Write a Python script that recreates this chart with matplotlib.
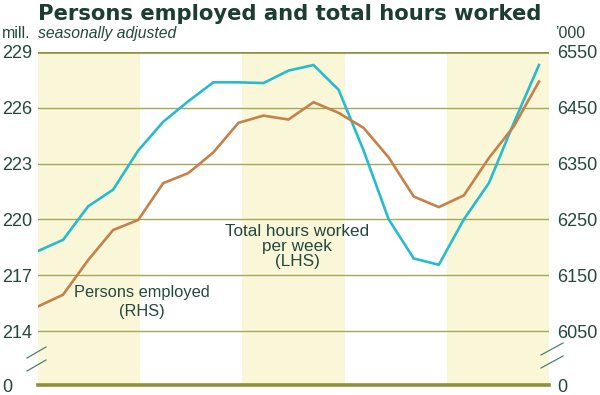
import matplotlib.pyplot as plt

# quarterly observations, 21 points
hours = [218.3, 218.9, 220.7, 221.6, 223.7, 225.25, 226.35, 227.37, 227.37, 227.33,
         228.0, 228.3, 226.97, 223.7, 220.0, 217.9, 217.56, 220.0, 221.95, 225.2, 228.3]
persons = [6094, 6115, 6177, 6231, 6249, 6315, 6333, 6370, 6423, 6436,
           6429, 6460, 6441, 6414, 6361, 6291, 6272, 6293, 6360, 6417, 6497]

left_ticks = [214, 217, 220, 223, 226, 229]
right_ticks = [6050, 6150, 6250, 6350, 6450, 6550]

txt = '#23483e'
grid_c = '#a7a65a'
band_c = '#faf7d8'
blue = '#27bccd'
orange = '#c5814a'

plt.rcParams['font.family'] = ['Liberation Sans', 'DejaVu Sans']

fig = plt.figure(figsize=(6, 3.95), dpi=100)
ax = fig.add_axes([38/600, 1 - 385/395, 511/600, 333/395])

# left scale with a break: 0 drawn below 214
lo = 214 - 54/18.6
ax.set_ylim(lo, 229)
xmax = 20.4
ax.set_xlim(0, xmax)

for k in range(0, 5, 2):
    ax.axvspan(k*xmax/5, (k+1)*xmax/5, color=band_c, lw=0, zorder=0)

for t in left_ticks[:-1]:
    ax.axhline(t, color=grid_c, lw=1.0, zorder=1)
ax.axhline(229, color='#8f8f3e', lw=2.6, zorder=1)
ax.axhline(lo, color='#8f8f3e', lw=2.6, zorder=1, clip_on=False)

x = list(range(len(hours)))
ax.plot(x, hours, color=blue, lw=1.9, zorder=3, solid_joinstyle='miter')

ax2 = ax.twinx()
lo2 = 6050 - (214 - lo) / 3 * 100
ax2.set_ylim(lo2, 6550)
ax2.plot(x, persons, color=orange, lw=1.9, zorder=3, solid_joinstyle='miter')

for a in (ax, ax2):
    for s in a.spines.values():
        s.set_visible(False)
    a.tick_params(length=0, labelsize=13, colors=txt)
    a.set_xticks([])

ax.set_yticks([lo] + left_ticks, ['0'] + [str(t) for t in left_ticks])
ax2.set_yticks([lo2] + right_ticks, ['0'] + [str(t) for t in right_ticks])
ax2.tick_params(axis='y', pad=6)
for lab in ax.get_yticklabels():
    lab.set_horizontalalignment('left')
    lab.set_x(-36/511)
ax.tick_params(axis='y', pad=0)

# break marks
bc = '#4f7f74'
for y0 in (358, 371):
    fig.add_artist(plt.Line2D([27/600, 46/600], [1 - y0/395, 1 - (y0-11)/395], color=bc, lw=0.9))
    fig.add_artist(plt.Line2D([541/600, 563/600], [1 - (y0-3)/395, 1 - (y0-15)/395], color=bc, lw=0.9))

fig.text(38/600, 1 - 20/395, 'Persons employed and total hours worked', fontsize=15.2,
         fontweight='bold', family='DejaVu Sans', color='#1d3d33', va='baseline')
fig.text(2/600, 1 - 38/395, 'mill.', fontsize=11.5, color=txt, va='baseline')
fig.text(38/600, 1 - 38/395, 'seasonally adjusted', fontsize=11.3, style='italic', color=txt, va='baseline')
fig.text(555/600, 1 - 38/395, '\u2019000', fontsize=11.5, color=txt, va='baseline')

ax.text(10.35, 218.55, 'Total hours worked\nper week\n(LHS)', ha='center', va='center',
        fontsize=12.3, color=txt, linespacing=1.0)
ax.text(4.15, 215.55, 'Persons employed\n(RHS)', ha='center', va='center',
        fontsize=11.8, color=txt, linespacing=1.3)

fig.savefig('out.png', dpi=100)
